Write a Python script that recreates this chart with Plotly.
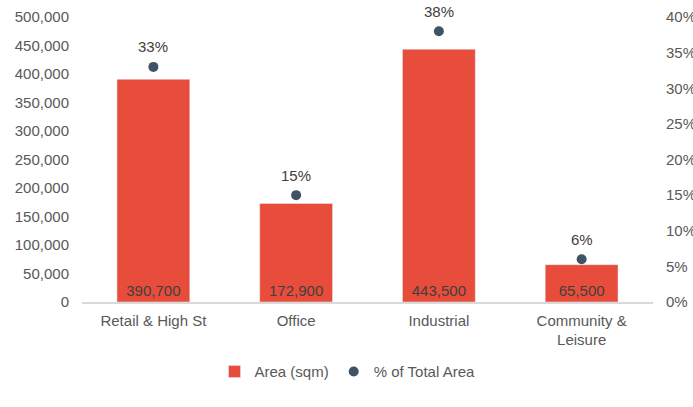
import plotly.graph_objects as go

categories = ["Retail & High St", "Office", "Industrial", "Community &<br>Leisure"]
area_sqm = [390700, 172900, 443500, 65500]
pct_total = [0.33, 0.15, 0.38, 0.06]
area_labels = ["390,700", "172,900", "443,500", "65,500"]
pct_labels = ["33%", "15%", "38%", "6%"]

FONT = "Liberation Sans, Arial, sans-serif"
GREY = "#595959"
DARK = "#404040"
FS = 15

fig = go.Figure()
fig.add_trace(go.Bar(
    x=categories, y=area_sqm, name="Area (sqm)",
    marker=dict(color="#E84C3B"),
    text=area_labels, textposition="inside", insidetextanchor="start",
    textfont=dict(color=DARK, size=FS, family=FONT),
    textangle=0,
))
fig.add_trace(go.Scatter(
    x=categories, y=pct_total, name="% of Total Area", yaxis="y2",
    mode="markers", cliponaxis=False,
    marker=dict(color="#3F5364", size=10),
))

for cat, v, lab in zip(categories, pct_total, pct_labels):
    fig.add_annotation(x=cat, y=v, xref="x", yref="y2", text=lab, showarrow=False,
                       yanchor="middle", yshift=20,
                       font=dict(color=DARK, size=FS, family=FONT))

fig.update_layout(
    width=693, height=407,
    margin=dict(l=82, r=40, t=17, b=105),
    plot_bgcolor="white", paper_bgcolor="white",
    font=dict(family=FONT, size=FS, color=GREY),
    bargap=0.49,
    showlegend=True,
    legend=dict(orientation="h", x=0.465, xanchor="center", y=-0.245, yanchor="middle",
                font=dict(size=FS, color=GREY), itemwidth=30, tracegroupgap=0),
    xaxis=dict(showline=True, linecolor="#D9D9D9", linewidth=1.5, ticks="",
               showgrid=False, ticklabelstandoff=4, tickfont=dict(size=FS, color=GREY),
               automargin=False),
    yaxis=dict(range=[0, 500000], dtick=50000, tickformat=",", showgrid=False,
               zeroline=False, showline=False, ticklabelstandoff=12, automargin=False,
               tickfont=dict(size=FS, color=GREY)),
    yaxis2=dict(range=[0, 0.40], dtick=0.05, tickformat=".0%", overlaying="y",
                side="right", showgrid=False, zeroline=False, showline=False,
                ticklabelstandoff=12, automargin=False,
                tickfont=dict(size=FS, color=GREY)),
)

fig.write_html("out.html")
